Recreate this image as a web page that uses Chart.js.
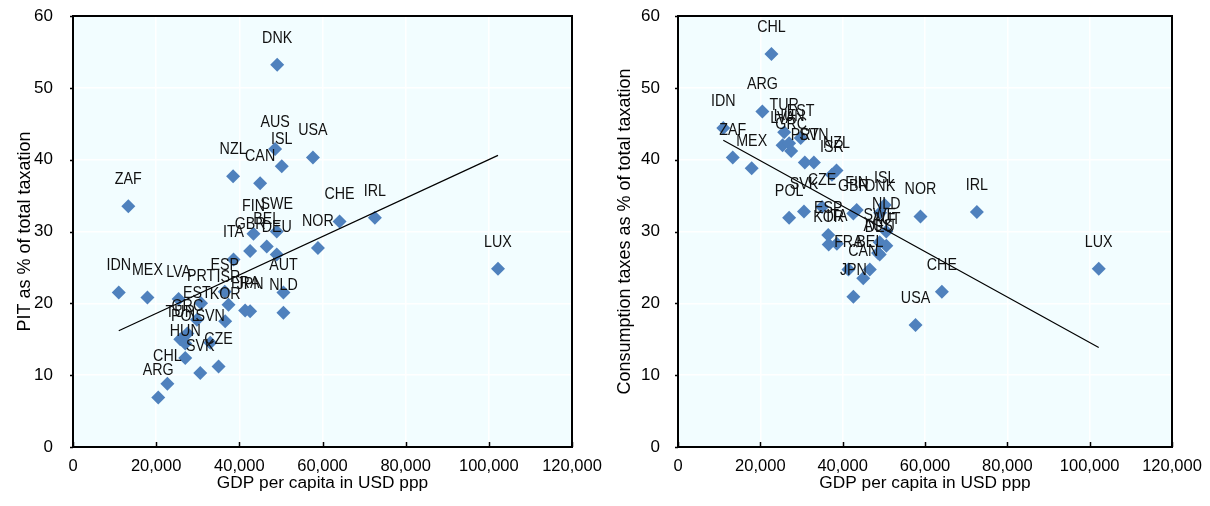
<!DOCTYPE html>
<html><head><meta charset="utf-8">
<script src="https://cdn.jsdelivr.net/npm/chart.js@4.4.1/dist/chart.umd.min.js"></script>
<style>
html,body{margin:0;padding:0;background:#fff;width:1210px;height:506px;overflow:hidden}
canvas{position:absolute;top:0}
</style></head>
<body>
<canvas id="left" width="605" height="506" style="left:0"></canvas>
<canvas id="right" width="605" height="506" style="left:605px"></canvas>
<script>
// ---- data ----
const countries = ["DNK","AUS","ISL","USA","NZL","CAN","CHE","IRL","ZAF","LUX","FIN","SWE","GBR","BEL","DEU","ITA","NOR","IDN","MEX","LVA","ESP","PRT","ISR","FRA","JPN","AUT","NLD","KOR","EST","TUR","POL","GRC","SVN","HUN","CHL","ARG","SVK","CZE"];
const gdpPerCapita = [49100,48600,50200,57700,38500,45000,64100,72600,13300,102200,43400,49000,42600,46600,49000,38600,58900,11000,17900,25400,36500,30800,37400,41400,42600,50600,50600,36600,29800,25800,27000,27500,33000,27000,22700,20500,30600,35000];
const pitShare = [53.2,41.5,39.1,40.3,37.7,36.7,31.4,31.9,33.5,24.8,29.7,30.0,27.3,27.9,26.8,26.1,27.7,21.5,20.8,20.6,21.6,20.0,19.8,19.0,18.9,21.5,18.7,17.5,17.7,15.0,14.4,15.8,14.5,12.4,8.8,6.9,10.3,11.2];
const consumptionShare = [32.6,27.0,33.7,17.0,38.5,23.5,21.6,32.7,40.3,24.8,33.0,28.5,32.5,24.7,26.8,28.3,32.1,44.4,38.8,42.0,29.5,39.6,37.9,24.7,20.9,28.0,30.0,28.2,43.0,43.8,31.9,41.2,39.6,42.3,54.7,46.7,32.8,33.4];
const xTickValues = [0,20000,40000,60000,80000,100000,120000];
const yTickValues = [0,10,20,30,40,50,60];
const xTitle = "GDP per capita in USD ppp";
const yTitleLeft = "PIT as % of total taxation";
const yTitleRight = "Consumption taxes as % of total taxation";

// ---- style ----
const FONT = '"Liberation Sans",Arial,sans-serif';
const BG = '#F2FDFF';
const MARK = '#4F81BD';

function fit(xs, ys){
  const n = xs.length;
  const mx = xs.reduce((a,b)=>a+b,0)/n, my = ys.reduce((a,b)=>a+b,0)/n;
  let sxy=0, sxx=0;
  for(let i=0;i<n;i++){ sxy+=(xs[i]-mx)*(ys[i]-my); sxx+=(xs[i]-mx)**2; }
  const b = sxy/sxx, a = my-b*mx;
  const lo = Math.min(...xs), hi = Math.max(...xs);
  return [{x:lo,y:a+b*lo},{x:hi,y:a+b*hi}];
}

const framePlugin = {
  id:'frame',
  beforeDraw(chart){
    const {ctx, chartArea:a} = chart;
    ctx.save();
    ctx.fillStyle = BG;
    ctx.fillRect(a.left,a.top,a.right-a.left,a.bottom-a.top);
    ctx.restore();
  },
  beforeDatasetsDraw(chart){
    const {ctx, chartArea:a, scales} = chart;
    ctx.save();
    ctx.strokeStyle = '#000';
    ctx.lineWidth = 2;
    ctx.strokeRect(a.left,a.top,a.right-a.left,a.bottom-a.top);
    ctx.lineWidth = 1.5;
    ctx.beginPath();
    scales.x.ticks.forEach(t=>{
      const px = Math.round(scales.x.getPixelForValue(t.value))+0.5;
      ctx.moveTo(px,a.bottom); ctx.lineTo(px,a.bottom-5);
    });
    scales.y.ticks.forEach(t=>{
      const py = Math.round(scales.y.getPixelForValue(t.value))+0.5;
      ctx.moveTo(a.left-3,py); ctx.lineTo(a.left,py);
    });
    ctx.stroke();
    ctx.restore();
  },
  afterDatasetsDraw(chart){
    const {ctx} = chart;
    const meta = chart.getDatasetMeta(0);
    ctx.save();
    ctx.font = '17px '+FONT;
    ctx.fillStyle = '#111';
    ctx.textAlign = 'center';
    ctx.textBaseline = 'middle';
    meta.data.forEach((pt,i)=>{
      ctx.save();
      ctx.translate(pt.x, pt.y-27);
      ctx.scale(0.84,1);
      ctx.fillText(countries[i], 0, 0);
      ctx.restore();
    });
    ctx.restore();
  }
};

function makeChart(id, values, yTitle, titlePadTop, tickPad, rightPad){
  const pts = gdpPerCapita.map((g,i)=>({x:g,y:values[i]}));
  return new Chart(document.getElementById(id), {
    type:'scatter',
    data:{datasets:[
      {data:pts, pointStyle:'rectRot', pointRadius:7, pointHoverRadius:7,
       backgroundColor:MARK, borderColor:MARK, borderWidth:0, order:2, clip:false},
      {type:'line', data:fit(gdpPerCapita, values), borderColor:'#000', borderWidth:1.2,
       pointRadius:0, fill:false, order:1, clip:false}
    ]},
    options:{
      responsive:false, animation:false, devicePixelRatio:1,
      layout:{padding:{left:0,right:rightPad,top:16,bottom:0}},
      plugins:{legend:{display:false}, tooltip:{enabled:false}},
      scales:{
        x:{type:'linear', min:0, max:120000,
           afterBuildTicks(s){ s.ticks = xTickValues.map(v=>({value:v})); },
           afterFit(s){ s.height = 59; s.paddingLeft = 0; s.paddingRight = 0; },
           grid:{color:'#ffffff', lineWidth:1.5, drawTicks:false},
           border:{display:false},
           ticks:{color:'#000', font:{family:FONT,size:16.5}, padding:10, maxRotation:0, autoSkip:false,
                  callback:v=>v.toLocaleString('en-US')},
           title:{display:true, text:xTitle, color:'#000', font:{family:FONT,size:17.3}, padding:{top:0,bottom:12}}
        },
        y:{type:'linear', min:0, max:60,
           afterBuildTicks(s){ s.ticks = yTickValues.map(v=>({value:v})); },
           afterFit(s){ s.width = 73; s.paddingTop = 0; s.paddingBottom = 0; },
           grid:{color:'#ffffff', lineWidth:1.5, drawTicks:false},
           border:{display:false},
           ticks:{color:'#000', font:{family:FONT,size:17}, padding:tickPad},
           title:{display:true, text:yTitle, color:'#000', font:{family:FONT,size:18}, padding:{top:titlePadTop,bottom:0}}
        }
      }
    },
    plugins:[framePlugin]
  });
}

makeChart('left', pitShare, yTitleLeft, 14, 20, 33);
makeChart('right', consumptionShare, yTitleRight, 9, 18, 38);
</script>
</body></html>
